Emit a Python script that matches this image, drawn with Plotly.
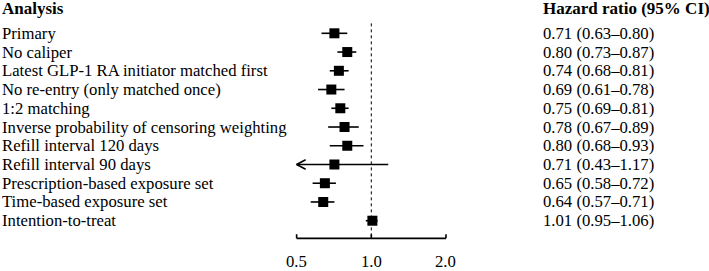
import plotly.graph_objects as go
import math

analyses = [
    "Primary",
    "No caliper",
    "Latest GLP-1 RA initiator matched first",
    "No re-entry (only matched once)",
    "1:2 matching",
    "Inverse probability of censoring weighting",
    "Refill interval 120 days",
    "Refill interval 90 days",
    "Prescription-based exposure set",
    "Time-based exposure set",
    "Intention-to-treat",
]
hr = [0.71, 0.80, 0.74, 0.69, 0.75, 0.78, 0.80, 0.71, 0.65, 0.64, 1.01]
lo = [0.63, 0.73, 0.68, 0.61, 0.69, 0.67, 0.68, 0.43, 0.58, 0.57, 0.95]
hi = [0.80, 0.87, 0.81, 0.78, 0.81, 0.89, 0.93, 1.17, 0.72, 0.71, 1.06]
axis_ticks = [0.5, 1.0, 2.0]
tick_labels = ["0.5", "1.0", "2.0"]

W, H = 709, 271
FONT = "Liberation Serif, Times New Roman, serif"
FS = 16.7
FSB = 17
xmin, xmax = axis_ticks[0], axis_ticks[-1]

rows = list(range(len(analyses)))

fig = go.Figure()

# CI lines (clipped to axis range)
xs, ys = [], []
for i in rows:
    xs += [max(lo[i], xmin), min(hi[i], xmax), None]
    ys += [i, i, None]
fig.add_trace(go.Scatter(x=xs, y=ys, mode="lines",
                         line=dict(color="black", width=1.6),
                         hoverinfo="skip", showlegend=False))

# arrows for clipped CIs
ax, ay = [], []
for i in rows:
    if lo[i] < xmin:
        tipx = xmin
        armx = xmin * 10 ** (9 / 248.1)
        ax += [armx, tipx, armx, None]
        ay += [i - 0.25, i, i + 0.25, None]
if ax:
    fig.add_trace(go.Scatter(x=ax, y=ay, mode="lines",
                             line=dict(color="black", width=1.6),
                             hoverinfo="skip", showlegend=False))

# point estimates
fig.add_trace(go.Scatter(x=hr, y=rows, mode="markers",
                         marker=dict(symbol="square", size=10, color="black",
                                     line=dict(width=0)),
                         showlegend=False))

# reference dotted line at 1
fig.add_shape(type="line", x0=1, x1=1, y0=-0.53, y1=10.94,
              xref="x", yref="y", line=dict(color="black", width=1, dash="dot"),
              layer="below")

# axis line and ticks
fig.add_shape(type="line", x0=xmin, x1=xmax, y0=10.94, y1=10.94,
              xref="x", yref="y", line=dict(color="black", width=1.6))
for t, lab in zip(axis_ticks, tick_labels):
    fig.add_shape(type="line", x0=t, x1=t, y0=10.94, y1=10.72,
                  xref="x", yref="y", line=dict(color="black", width=1.6))
    fig.add_annotation(x=math.log10(t), y=12.2, xref="x", yref="y", text=lab,
                       showarrow=False, xanchor="center", yanchor="middle",
                       font=dict(family=FONT, size=FS, color="black"))

# text columns
fig.add_annotation(x=0, y=-1.33, xref="paper", yref="y", text="<b>Analysis</b>",
                   showarrow=False, xanchor="left", yanchor="middle",
                   font=dict(family=FONT, size=FSB, color="black"))
fig.add_annotation(x=541 / W, y=-1.33, xref="paper", yref="y",
                   text="<b>Hazard ratio (95% CI)</b>",
                   showarrow=False, xanchor="left", yanchor="middle",
                   font=dict(family=FONT, size=FSB, color="black"))
for i in rows:
    fig.add_annotation(x=0, y=i, xref="paper", yref="y", text=analyses[i],
                       showarrow=False, xanchor="left", yanchor="middle",
                       font=dict(family=FONT, size=FS, color="black"))
    fig.add_annotation(x=541 / W, y=i, xref="paper", yref="y",
                       text=f"{hr[i]:.2f} ({lo[i]:.2f}\u2013{hi[i]:.2f})",
                       showarrow=False, xanchor="left", yanchor="middle",
                       font=dict(family=FONT, size=FS, color="black"))

fig.update_layout(
    width=W, height=H,
    margin=dict(l=0, r=0, t=0, b=0),
    paper_bgcolor="white", plot_bgcolor="white",
    xaxis=dict(type="log", range=[-1.4966, 1.3611], visible=False,
               domain=[0, 1], fixedrange=True),
    yaxis=dict(range=[12.683, -1.777], visible=False, domain=[0, 1],
               fixedrange=True),
    showlegend=False,
)

fig.write_html("out.html")
